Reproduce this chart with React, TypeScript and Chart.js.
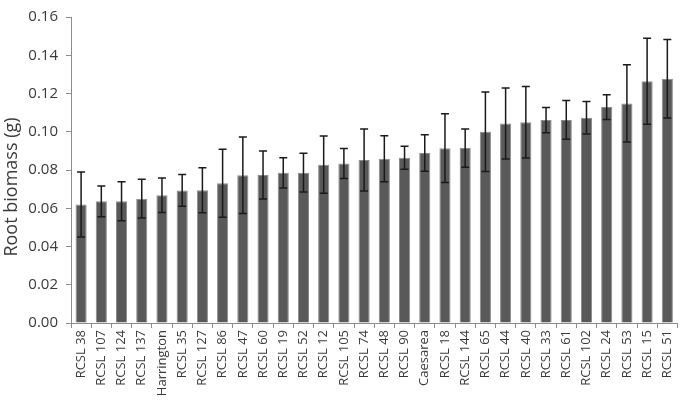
import React, { useEffect, useRef } from "react";
import { Chart, registerables } from "chart.js";

Chart.register(...registerables);

const categories = [
  "RCSL 38", "RCSL 107", "RCSL 124", "RCSL 137", "Harrington", "RCSL 35",
  "RCSL 127", "RCSL 86", "RCSL 47", "RCSL 60", "RCSL 19", "RCSL 52",
  "RCSL 12", "RCSL 105", "RCSL 74", "RCSL 48", "RCSL 90", "Caesarea",
  "RCSL 18", "RCSL 144", "RCSL 65", "RCSL 44", "RCSL 40", "RCSL 33",
  "RCSL 61", "RCSL 102", "RCSL 24", "RCSL 53", "RCSL 15", "RCSL 51",
];

const means = [
  0.062, 0.0636, 0.0637, 0.065, 0.0668, 0.0693,
  0.0694, 0.0731, 0.0773, 0.0774, 0.0785, 0.0786,
  0.0828, 0.0834, 0.0852, 0.0859, 0.0864, 0.0889,
  0.0914, 0.0915, 0.1, 0.1043, 0.105, 0.1061,
  0.1062, 0.1073, 0.1129, 0.1148, 0.1264, 0.1277,
];

const errors = [
  0.017, 0.008, 0.0102, 0.0101, 0.009, 0.0083,
  0.0118, 0.0178, 0.02, 0.0125, 0.0079, 0.0101,
  0.015, 0.0079, 0.0162, 0.012, 0.006, 0.0095,
  0.018, 0.01, 0.0208, 0.0186, 0.0187, 0.0066,
  0.0101, 0.0085, 0.0065, 0.0202, 0.0225, 0.0205,
];

const yTicks = [0, 0.02, 0.04, 0.06, 0.08, 0.1, 0.12, 0.14, 0.16];
const yTitle = "Root biomass (g)";

const errorBarPlugin = {
  id: "errorBars",
  afterDatasetsDraw(chart: any) {
    const ctx = chart.ctx;
    const meta = chart.getDatasetMeta(0);
    const yScale = chart.scales.y;
    ctx.save();
    ctx.strokeStyle = "#1a1a1a";
    ctx.lineWidth = 1.5;
    meta.data.forEach((el: any, i: number) => {
      const x = el.x;
      const top = yScale.getPixelForValue(means[i] + errors[i]);
      const bot = yScale.getPixelForValue(means[i] - errors[i]);
      ctx.beginPath();
      ctx.moveTo(x, top);
      ctx.lineTo(x, bot);
      ctx.moveTo(x - 4, top);
      ctx.lineTo(x + 4, top);
      ctx.moveTo(x - 4, bot);
      ctx.lineTo(x + 4, bot);
      ctx.stroke();
    });
    ctx.restore();
  },
};

const titlePlugin = {
  id: "yTitle",
  afterDraw(chart: any) {
    const ctx = chart.ctx;
    ctx.save();
    ctx.translate(12, 187);
    ctx.rotate(-Math.PI / 2);
    ctx.textAlign = "center";
    ctx.textBaseline = "middle";
    ctx.fillStyle = "#3a3a3a";
    ctx.font = "18px 'Open Sans'";
    ctx.fillText(yTitle, 0, 0);
    ctx.restore();
  },
};

export default function App() {
  const ref = useRef<HTMLCanvasElement>(null);
  useEffect(() => {
    if (!ref.current) return;
    const chart = new Chart(ref.current, {
      type: "bar",
      data: {
        labels: categories,
        datasets: [
          {
            data: means,
            backgroundColor: "#595959",
            borderColor: "#8c8c8c",
            borderWidth: 1,
            barPercentage: 0.55,
            categoryPercentage: 1,
          },
        ],
      },
      options: {
        responsive: false,
        animation: false,
        layout: { padding: { top: 6, right: 4, left: 0, bottom: 0 } },
        plugins: { legend: { display: false }, tooltip: { enabled: false } },
        scales: {
          x: {
            grid: { display: true, drawOnChartArea: false, drawTicks: true, tickLength: 5, color: "#8c8c8c", offset: true },
            border: { color: "#8c8c8c", width: 1 },
            ticks: {
              minRotation: 90,
              maxRotation: 90,
              autoSkip: false,
              padding: 2,
              color: "#3a3a3a",
              font: { family: "Open Sans", size: 13 },
            },
            afterFit: (s: any) => { s.height = 81; },
          },
          y: {
            min: 0,
            max: 0.16,
            afterBuildTicks: (s: any) => { s.ticks = yTicks.map((v) => ({ value: v })); },
            grid: { display: true, drawOnChartArea: false, drawTicks: true, tickLength: 5, color: "#8c8c8c" },
            border: { color: "#8c8c8c", width: 1 },
            ticks: {
              padding: 8,
              color: "#3a3a3a",
              font: { family: "Open Sans", size: 15 },
              callback: (v: any) => Number(v).toFixed(2),
            },
            title: { display: false },
            afterFit: (s: any) => { s.width = 71; },
          },
        },
      },
      plugins: [errorBarPlugin, titlePlugin],
    });
    return () => chart.destroy();
  }, []);
  return (
    <div style={{ position: "fixed", left: 0, top: 0, width: 685, height: 404, background: "#fff" }}>
      <canvas ref={ref} width={685} height={404} />
    </div>
  );
}
